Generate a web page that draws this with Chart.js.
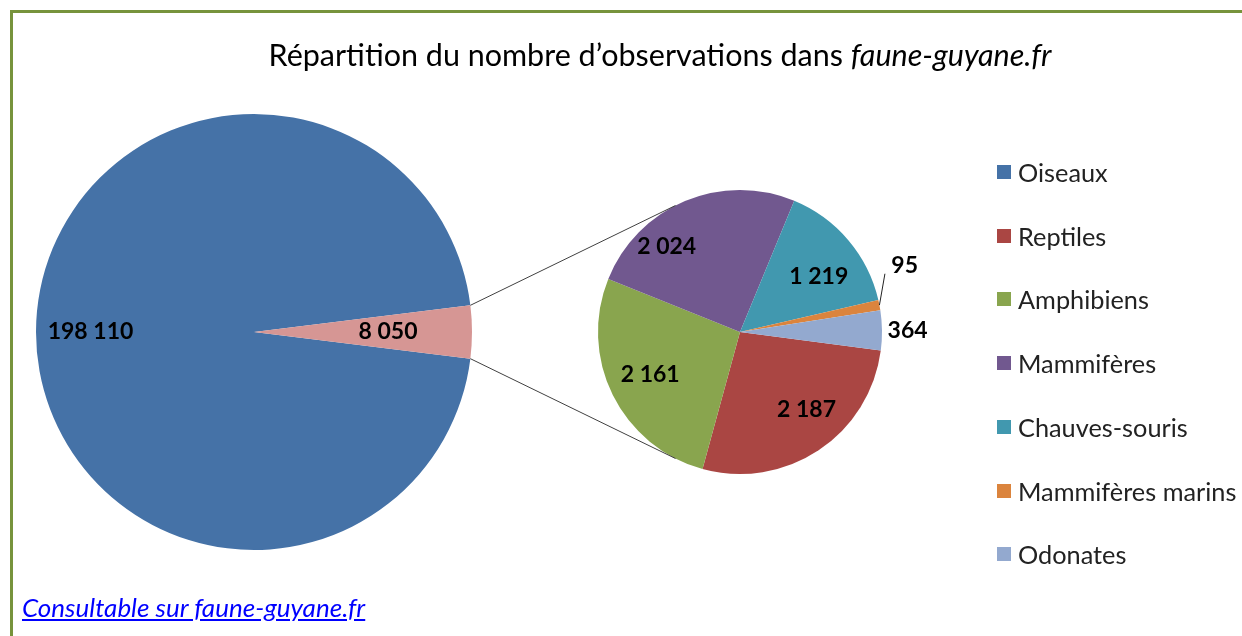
<!DOCTYPE html>
<html>
<head>
<meta charset="utf-8">
<script src="https://cdn.jsdelivr.net/npm/chart.js@4"></script>
<style>
  html, body { margin: 0; padding: 0; background: #fff; }
  body { width: 1242px; height: 636px; position: relative; overflow: hidden; font-family: Lato, sans-serif; }
  .frame { position: absolute; left: 10px; top: 10px; right: -20px; bottom: -20px;
           border-top: 3px solid #77933c; border-left: 3px solid #77933c; }
  canvas { position: absolute; left: 0; top: 0; }
  #title { position: absolute; left: 0; width: 1320px; top: 36px; text-align: center; font-size: 30.5px; color: #000; white-space: nowrap; }
  #legend { position: absolute; left: 997px; top: 0; }
  .item { position: absolute; left: 0; height: 30px; display: flex; align-items: center; white-space: nowrap; font-size: 25.3px; color: #222; }
  .box { width: 14px; height: 14px; margin-right: 7px; }
  #footer { position: absolute; left: 22px; top: 591px; font-size: 26px; font-style: italic; color: #0000ff; text-decoration: underline; white-space: nowrap; }
</style>
</head>
<body>
<div class="frame"></div>
<canvas id="mainPie" width="1242" height="636"></canvas>
<canvas id="subPie" width="1242" height="636"></canvas>
<div id="title">Répartition du nombre d’observations dans <i>faune-guyane.fr</i></div>
<div id="legend"></div>
<div id="footer">Consultable sur faune-guyane.fr</div>
<script>
const categories = ['Oiseaux', 'Reptiles', 'Amphibiens', 'Mammifères', 'Chauves-souris', 'Mammifères marins', 'Odonates'];
const counts = [198110, 2187, 2161, 2024, 1219, 95, 364];
const colors = ['#4572a7', '#aa4643', '#89a54e', '#71588f', '#4198af', '#db843d', '#93a9cf'];
const otherColor = '#d69694';

// main pie: birds + everything else grouped in one slice
const others = counts.slice(1).reduce((a, b) => a + b, 0);
const mainValues = [counts[0], others];

function fmt(v) {
    return String(v).replace(/\B(?=(\d{3})+(?!\d))/g, ' ');
}

const sliceLabels = {
    id: 'sliceLabels',
    afterDatasetsDraw(chart, args, opts) {
        const ctx = chart.ctx;
        const meta = chart.getDatasetMeta(0);
        const values = chart.data.datasets[0].data;
        ctx.save();
        ctx.font = 'bold 23px Lato';
        ctx.fillStyle = '#000';
        ctx.textAlign = 'center';
        ctx.textBaseline = 'middle';
        meta.data.forEach((arc, i) => {
            const p = opts.place[i];
            const mid = (arc.startAngle + arc.endAngle) / 2;
            const a = mid + p.shift * Math.PI / 180;
            const r = arc.outerRadius * p.r;
            if (p.leader) {
                const a2 = mid + p.leader.shift * Math.PI / 180;
                ctx.strokeStyle = '#222';
                ctx.lineWidth = 1;
                ctx.beginPath();
                ctx.moveTo(arc.x + Math.cos(mid) * arc.outerRadius, arc.y + Math.sin(mid) * arc.outerRadius);
                ctx.lineTo(arc.x + Math.cos(a2) * arc.outerRadius * p.leader.r, arc.y + Math.sin(a2) * arc.outerRadius * p.leader.r);
                ctx.stroke();
            }
            ctx.fillText(fmt(values[i]), arc.x + Math.cos(a) * r, arc.y + Math.sin(a) * r);
        });
        ctx.restore();
    }
};

const mainChart = new Chart(document.getElementById('mainPie').getContext('2d'), {
    type: 'pie',
    data: {
        labels: [categories[0], 'Autres'],
        datasets: [{
            data: mainValues,
            backgroundColor: [colors[0], otherColor],
            borderWidth: 0
        }]
    },
    options: {
        responsive: false,
        animation: false,
        events: [],
        rotation: 90 + others / (counts[0] + others) * 180,
        layout: { padding: { left: 36, top: 114, right: 770, bottom: 86 } },
        plugins: {
            legend: { display: false },
            tooltip: { enabled: false },
            sliceLabels: { place: [{ r: 0.75, shift: 0 }, { r: 0.615, shift: 0 }] }
        }
    },
    plugins: [sliceLabels]
});

// lines joining the grouped slice to the second pie
const connectors = {
    id: 'connectors',
    afterDraw(chart) {
        const big = mainChart.getDatasetMeta(0).data[1];
        const small = chart.getDatasetMeta(0).data[0];
        const ctx = chart.ctx;
        const ends = [[big.startAngle, 243], [big.endAngle, 117]];
        ctx.save();
        ctx.strokeStyle = '#404040';
        ctx.lineWidth = 1;
        ends.forEach(([a, deg]) => {
            const b = deg * Math.PI / 180;
            ctx.beginPath();
            ctx.moveTo(big.x + Math.cos(a) * big.outerRadius, big.y + Math.sin(a) * big.outerRadius);
            ctx.lineTo(small.x + Math.cos(b) * small.outerRadius, small.y + Math.sin(b) * small.outerRadius);
            ctx.stroke();
        });
        ctx.restore();
    }
};

new Chart(document.getElementById('subPie').getContext('2d'), {
    type: 'pie',
    data: {
        labels: categories.slice(1),
        datasets: [{
            data: counts.slice(1),
            backgroundColor: colors.slice(1),
            borderWidth: 0
        }]
    },
    options: {
        responsive: false,
        animation: false,
        events: [],
        rotation: 97.5,
        layout: { padding: { left: 598, top: 190, right: 360, bottom: 162 } },
        plugins: {
            legend: { display: false },
            tooltip: { enabled: false },
            sliceLabels: {
                place: [
                    { r: 0.72, shift: -7 },
                    { r: 0.70, shift: 1 },
                    { r: 0.79, shift: -18 },
                    { r: 0.68, shift: 5 },
                    { r: 1.25, shift: -11, leader: { r: 1.1, shift: -11 } },
                    { r: 1.18, shift: 0 }
                ]
            }
        }
    },
    plugins: [sliceLabels, connectors]
});

// legend
const legend = document.getElementById('legend');
categories.forEach((name, i) => {
    const item = document.createElement('div');
    item.className = 'item';
    item.style.top = (157 + i * 63.7) + 'px';
    item.innerHTML = '<span class="box" style="background:' + colors[i] + '"></span>' + name;
    legend.appendChild(item);
});
</script>
</body>
</html>
